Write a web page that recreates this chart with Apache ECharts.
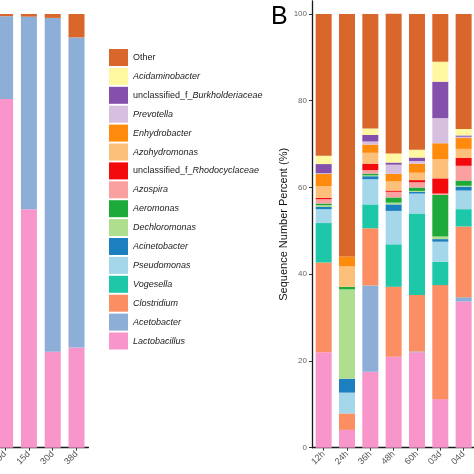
<!DOCTYPE html>
<html>
<head>
<meta charset="utf-8">
<script src="https://cdn.jsdelivr.net/npm/echarts@6/dist/echarts.min.js"></script>
<style>html,body{margin:0;padding:0;background:#fff}#c{width:474px;height:474px}</style>
</head>
<body>
<div id="c"></div>
<script>
// ---- Data ----
var leftCategories = ['9d', '15d', '30d', '38d'];
var leftLactobacillus = [80.4, 55.0, 22.1, 23.1];
var leftAcetobacter = [19.1, 44.4, 77.0, 71.5];
var leftOther = [0.5, 0.6, 0.9, 5.4];

var rightCategories = ['12h', '24h', '36h', '48h', '60h', '03d', '04d'];
var Lactobacillus   = [22.0, 4.1, 17.5, 21.0, 22.0, 11.2, 33.7];
var Acetobacter     = [0, 0, 19.9, 0, 0.2, 0, 1.0];
var Clostridium     = [20.7, 3.8, 13.2, 16.1, 13.0, 26.3, 16.3];
var Vogesella       = [9.1, 0, 5.5, 9.8, 18.8, 5.4, 4.0];
var Pseudomonas     = [3.2, 4.8, 5.8, 7.7, 4.6, 4.6, 4.3];
var Acinetobacter   = [0.5, 3.2, 0.7, 1.5, 0.4, 0.6, 0.9];
var Dechloromonas   = [0.4, 20.6, 0.2, 0.4, 0.2, 0.6, 0.2];
var Aeromonas       = [0.4, 0.6, 0.4, 1.2, 0.8, 9.6, 1.2];
var Azospira        = [1.0, 0, 0.8, 1.3, 1.2, 0.3, 3.4];
var Rhodocyclaceae  = [0.3, 0, 1.5, 0.3, 0.5, 3.5, 1.8];
var Azohydromonas   = [2.7, 4.7, 2.5, 2.1, 1.7, 4.4, 2.1];
var Enhydrobacter   = [2.8, 2.3, 1.9, 1.75, 2.1, 3.7, 2.5];
var Prevotella      = [0.2, 0, 0.7, 2.1, 0.6, 5.8, 0.3];
var Burkholderiaceae = [2.1, 0, 1.5, 0.5, 0.8, 8.4, 0.3];
var Acidaminobacter = [1.9, 0, 1.5, 2.1, 1.8, 4.6, 1.5];
var Other           = [32.7, 55.9, 26.4, 32.2, 31.3, 11.0, 26.5];

var yTicks = [0, 20, 40, 60, 80, 100];

// legend order (top to bottom) and colours
var taxa = ['Other', 'Acidaminobacter', 'unclassified_f_Burkholderiaceae', 'Prevotella', 'Enhydrobacter',
  'Azohydromonas', 'unclassified_f_Rhodocyclaceae', 'Azospira', 'Aeromonas', 'Dechloromonas',
  'Acinetobacter', 'Pseudomonas', 'Vogesella', 'Clostridium', 'Acetobacter', 'Lactobacillus'];
var colors = {
  'Other': '#D9662B', 'Acidaminobacter': '#FFF8A0', 'unclassified_f_Burkholderiaceae': '#8450AC',
  'Prevotella': '#D7BFE0', 'Enhydrobacter': '#FF8A0C', 'Azohydromonas': '#FDC07A',
  'unclassified_f_Rhodocyclaceae': '#F20A0C', 'Azospira': '#FBA0A0', 'Aeromonas': '#1DAA3A',
  'Dechloromonas': '#AEDE8E', 'Acinetobacter': '#1C7FBF', 'Pseudomonas': '#A5D7EA',
  'Vogesella': '#1CC8A8', 'Clostridium': '#FB8F63', 'Acetobacter': '#8DAED6', 'Lactobacillus': '#F895CB'
};
var rightData = {
  'Lactobacillus': Lactobacillus, 'Acetobacter': Acetobacter, 'Clostridium': Clostridium,
  'Vogesella': Vogesella, 'Pseudomonas': Pseudomonas, 'Acinetobacter': Acinetobacter,
  'Dechloromonas': Dechloromonas, 'Aeromonas': Aeromonas, 'Azospira': Azospira,
  'unclassified_f_Rhodocyclaceae': Rhodocyclaceae, 'Azohydromonas': Azohydromonas,
  'Enhydrobacter': Enhydrobacter, 'Prevotella': Prevotella,
  'unclassified_f_Burkholderiaceae': Burkholderiaceae, 'Acidaminobacter': Acidaminobacter, 'Other': Other
};
var leftData = { 'Lactobacillus': leftLactobacillus, 'Acetobacter': leftAcetobacter, 'Other': leftOther };

var FONT = '"Liberation Sans", Arial, sans-serif';
var series = [];
var stackOrder = taxa.slice().reverse(); // bottom first
stackOrder.forEach(function (name) {
  if (leftData[name]) {
    series.push({ name: name, type: 'bar', stack: 'L', xAxisIndex: 0, yAxisIndex: 0, barWidth: 16,
      data: leftData[name], itemStyle: { color: colors[name] }, emphasis: { disabled: true } });
  }
});
stackOrder.forEach(function (name) {
  series.push({ name: name, type: 'bar', stack: 'R', xAxisIndex: 1, yAxisIndex: 1, barWidth: 16,
    data: rightData[name], itemStyle: { color: colors[name] }, emphasis: { disabled: true } });
});

function axisX(cats, idx) {
  return {
    type: 'category', gridIndex: idx, data: cats,
    axisLine: { lineStyle: { color: '#1a1a1a', width: 1.3 } },
    axisTick: { show: true, alignWithLabel: true, length: 3, lineStyle: { color: '#333' } },
    axisLabel: { rotate: 45, color: '#555', fontSize: 9, fontFamily: FONT, margin: 5 }
  };
}

var chart = echarts.init(document.getElementById('c'), null, { renderer: 'canvas' });
chart.setOption({
  animation: false,
  backgroundColor: '#fff',
  title: { text: 'B', left: 266, top: 0, textStyle: { fontSize: 25, fontWeight: 'normal', color: '#000', fontFamily: FONT } },
  legend: {
    orient: 'vertical', left: 109, top: 49, padding: 0, itemWidth: 19, itemHeight: 17, itemGap: 1.9,
    icon: 'rect', data: taxa, selectedMode: false,
    formatter: function (n) {
      if (n === 'Other') return '{n|Other}';
      if (n.indexOf('unclassified_f_') === 0) return '{n|unclassified_f_}{i|' + n.slice(15) + '}';
      return '{i|' + n + '}';
    },
    textStyle: {
      fontSize: 9, color: '#222', fontFamily: FONT,
      rich: {
        n: { fontSize: 9, color: '#222', fontFamily: FONT },
        i: { fontSize: 9, color: '#222', fontStyle: 'italic', fontFamily: FONT }
      }
    }
  },
  grid: [
    { left: -6.8, width: 95.2, top: 1, height: 446.7, outerBoundsMode: 'none', containLabel: false },
    { left: 312, width: 163.3, top: 1, height: 446.7, outerBoundsMode: 'none', containLabel: false }
  ],
  xAxis: [axisX(leftCategories, 0), axisX(rightCategories, 1)],
  yAxis: [
    { type: 'value', gridIndex: 0, min: 0, max: 103, show: false },
    {
      type: 'value', gridIndex: 1, min: 0, max: 103,
      name: 'Sequence Number Percent (%)', nameLocation: 'middle', nameGap: 22,
      nameTextStyle: { fontSize: 11, color: '#111', fontFamily: FONT },
      axisLine: { show: true, lineStyle: { color: '#1a1a1a', width: 1.3 } },
      axisTick: { show: true, length: 3, customValues: yTicks, lineStyle: { color: '#333' } },
      axisLabel: { customValues: yTicks, color: '#666', fontSize: 8, fontFamily: FONT, margin: 5 },
      splitLine: { show: false }
    }
  ],
  series: series
});
</script>
</body>
</html>
